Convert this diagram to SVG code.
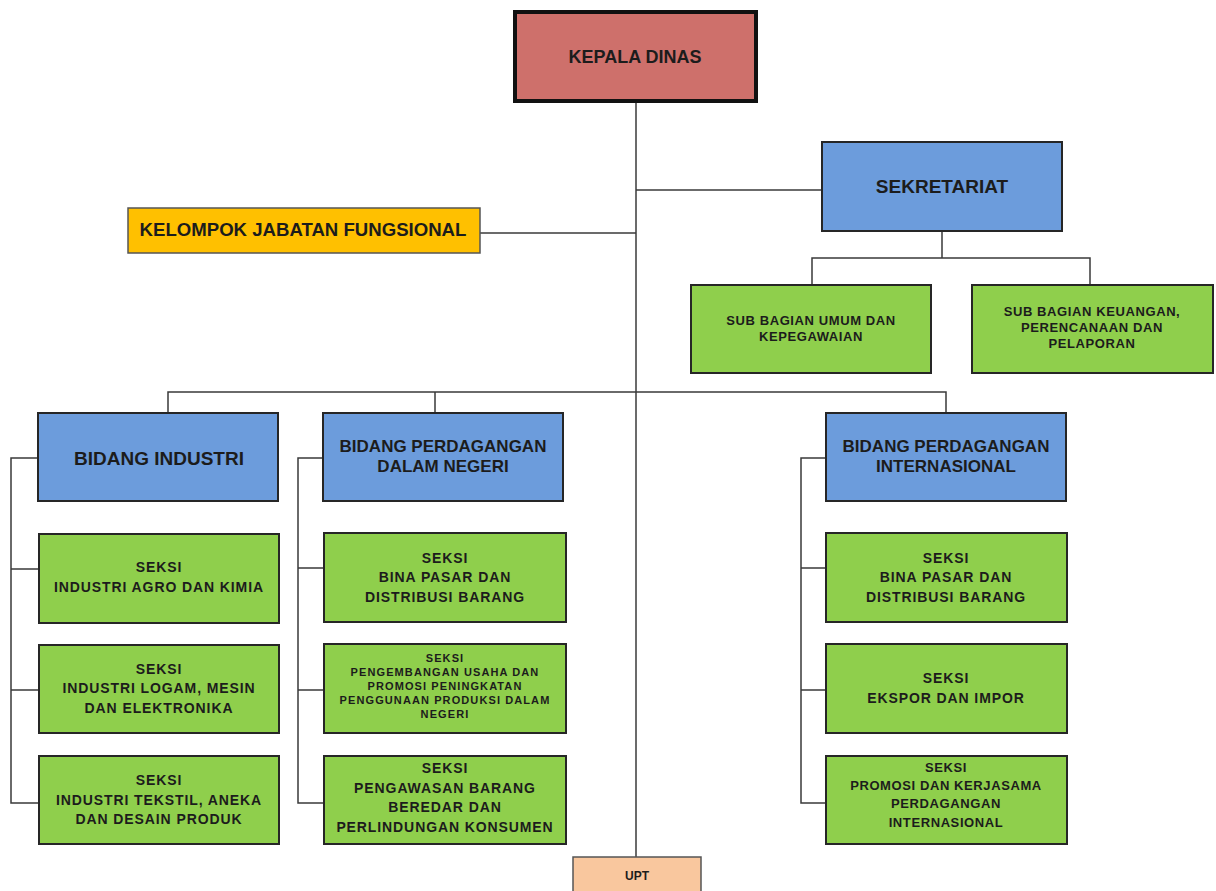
<svg xmlns="http://www.w3.org/2000/svg" width="1216" height="891" viewBox="0 0 1216 891">
<style>
  .box{stroke:#262626;stroke-width:2}
  .red{fill:#CE706B;stroke:#111;stroke-width:4}
  .yel{fill:#FFC000;stroke:#555;stroke-width:1.5}
  .blue{fill:#6C9CDC}
  .green{fill:#8FCF4C}
  .peach{fill:#F9C79E;stroke:#555;stroke-width:1.5}
  .conn{fill:none;stroke:#3a3a3a;stroke-width:1.5}
  text{font-family:"Liberation Sans",Arial,sans-serif;font-weight:bold;fill:#1c1c1c;text-anchor:middle}
  .t18{font-size:18px}
  .t19{font-size:19px}
  .t16{font-size:17px}
  .t14{font-size:14px;letter-spacing:0.9px}
  .t13{font-size:13px;letter-spacing:0.6px}
  .t11{font-size:11px;letter-spacing:1.1px}
  .t12{font-size:12px}
</style>
<rect width="1216" height="891" fill="#ffffff"/>
<g id="connectors">
  <path class="conn" d="M636 102 V857"/>
  <path class="conn" d="M636 190 H822"/>
  <path class="conn" d="M480 233 H636"/>
  <path class="conn" d="M942 231 V258 M812 285 V258 H1090 V285"/>
  <path class="conn" d="M168 413 V392 H946 V413 M435 392 V413"/>
  <path class="conn" d="M38 458 H11 V803 H39 M11 569 H39 M11 690 H39"/>
  <path class="conn" d="M323 458 H298 V803 H323 M298 568 H323 M298 690 H323"/>
  <path class="conn" d="M826 458 H801 V803 H826 M801 568 H826 M801 690 H826"/>
</g>
<g id="kepala-dinas">
  <rect class="red" x="515" y="12" width="241" height="89"/>
  <text class="t18" x="635" y="63">KEPALA DINAS</text>
</g>
<g id="sekretariat">
  <rect class="box blue" x="822" y="142" width="240" height="89"/>
  <text class="t19" x="942" y="193">SEKRETARIAT</text>
</g>
<g id="kelompok">
  <rect class="yel" x="128" y="208" width="352" height="45"/>
  <text class="t18" x="303" y="236" style="font-size:18.6px">KELOMPOK JABATAN FUNGSIONAL</text>
</g>
<g id="sub-umum">
  <rect class="box green" x="691" y="285" width="240" height="88"/>
  <text class="t13" x="811" y="325">SUB BAGIAN UMUM DAN</text>
  <text class="t13" x="811" y="341">KEPEGAWAIAN</text>
</g>
<g id="sub-keuangan">
  <rect class="box green" x="972" y="285" width="241" height="88"/>
  <text class="t13" x="1092" y="316">SUB BAGIAN KEUANGAN,</text>
  <text class="t13" x="1092" y="332">PERENCANAAN DAN</text>
  <text class="t13" x="1092" y="348">PELAPORAN</text>
</g>
<g id="bidang-industri">
  <rect class="box blue" x="38" y="413" width="240" height="88"/>
  <text class="t19" x="159" y="465">BIDANG INDUSTRI</text>
</g>
<g id="bidang-dn">
  <rect class="box blue" x="323" y="413" width="240" height="88"/>
  <text class="t16" x="443" y="452">BIDANG PERDAGANGAN</text>
  <text class="t16" x="443" y="472">DALAM NEGERI</text>
</g>
<g id="bidang-int">
  <rect class="box blue" x="826" y="413" width="240" height="88"/>
  <text class="t16" x="946" y="452">BIDANG PERDAGANGAN</text>
  <text class="t16" x="946" y="472">INTERNASIONAL</text>
</g>
<g id="seksi-agro">
  <rect class="box green" x="39" y="534" width="240" height="89"/>
  <text class="t14" x="159" y="572">SEKSI</text>
  <text class="t14" x="159" y="592">INDUSTRI AGRO DAN KIMIA</text>
</g>
<g id="seksi-logam">
  <rect class="box green" x="39" y="645" width="240" height="88"/>
  <text class="t14" x="159" y="674">SEKSI</text>
  <text class="t14" x="159" y="693">INDUSTRI LOGAM, MESIN</text>
  <text class="t14" x="159" y="713">DAN ELEKTRONIKA</text>
</g>
<g id="seksi-tekstil">
  <rect class="box green" x="39" y="756" width="240" height="88"/>
  <text class="t14" x="159" y="785">SEKSI</text>
  <text class="t14" x="159" y="805">INDUSTRI TEKSTIL, ANEKA</text>
  <text class="t14" x="159" y="824">DAN DESAIN PRODUK</text>
</g>
<g id="seksi-dn-bina">
  <rect class="box green" x="324" y="533" width="242" height="89"/>
  <text class="t14" x="445" y="563">SEKSI</text>
  <text class="t14" x="445" y="582">BINA PASAR DAN</text>
  <text class="t14" x="445" y="602">DISTRIBUSI BARANG</text>
</g>
<g id="seksi-dn-pengembangan">
  <rect class="box green" x="324" y="644" width="242" height="89"/>
  <text class="t11" x="445" y="662">SEKSI</text>
  <text class="t11" x="445" y="676">PENGEMBANGAN USAHA DAN</text>
  <text class="t11" x="445" y="690">PROMOSI PENINGKATAN</text>
  <text class="t11" x="445" y="704">PENGGUNAAN PRODUKSI DALAM</text>
  <text class="t11" x="445" y="718">NEGERI</text>
</g>
<g id="seksi-dn-pengawasan">
  <rect class="box green" x="324" y="756" width="242" height="88"/>
  <text class="t14" x="445" y="773">SEKSI</text>
  <text class="t14" x="445" y="793">PENGAWASAN BARANG</text>
  <text class="t14" x="445" y="812">BEREDAR DAN</text>
  <text class="t14" x="445" y="832">PERLINDUNGAN KONSUMEN</text>
</g>
<g id="seksi-int-bina">
  <rect class="box green" x="826" y="533" width="241" height="89"/>
  <text class="t14" x="946" y="563">SEKSI</text>
  <text class="t14" x="946" y="582">BINA PASAR DAN</text>
  <text class="t14" x="946" y="602">DISTRIBUSI BARANG</text>
</g>
<g id="seksi-int-ekspor">
  <rect class="box green" x="826" y="644" width="241" height="89"/>
  <text class="t14" x="946" y="683">SEKSI</text>
  <text class="t14" x="946" y="703">EKSPOR DAN IMPOR</text>
</g>
<g id="seksi-int-promosi">
  <rect class="box green" x="826" y="756" width="241" height="88"/>
  <text class="t13" x="946" y="772">SEKSI</text>
  <text class="t13" x="946" y="790">PROMOSI DAN KERJASAMA</text>
  <text class="t13" x="946" y="808">PERDAGANGAN</text>
  <text class="t13" x="946" y="827">INTERNASIONAL</text>
</g>
<g id="upt">
  <rect class="peach" x="573" y="857" width="128" height="40"/>
  <text class="t12" x="637" y="880">UPT</text>
</g>
</svg>
